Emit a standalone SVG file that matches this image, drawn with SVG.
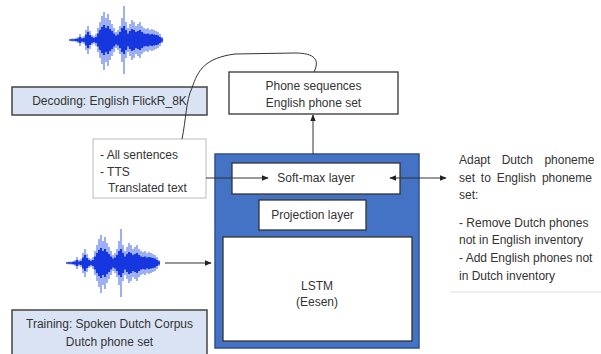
<svg xmlns="http://www.w3.org/2000/svg" width="601" height="354" viewBox="0 0 601 354">
<style>
text{font-family:"Liberation Sans",Arial,sans-serif;font-size:12px;fill:#333}
.c{text-anchor:middle}
.lbl{fill:#dae3f3;stroke:#444;stroke-width:1.5}
.wb{fill:#fff;stroke:#333;stroke-width:1.3}
.ln{fill:none;stroke:#333;stroke-width:1}
.wo{fill:none;stroke:#2a4de8;stroke-width:1.8;opacity:.5}
.wi{fill:none;stroke:#1637e0;stroke-width:2.1}
</style>
<defs>
<marker id="ah" viewBox="0 0 10 10" refX="9" refY="5" markerWidth="7" markerHeight="7" orient="auto-start-reverse">
<path d="M0,1L10,5L0,9z" fill="#222"/>
</marker>
<symbol id="wave" overflow="visible">
<path class="wo" d="M0,-1V1M2,-1.5V1.5M4,-1.5V1.5M6,-2V2M8,-3V3M10,-6V6M12,-3V3M14,-4V4M16,-10V10M18,-14V14M20,-9V9M22,-5V5M24,-4V4M26,-6V6M28,-12V12M30,-18V18M32,-24V24M34,-28V30M36,-22V22M38,-26V26M40,-20V20M42,-16V16M44,-12V12M46,-8V8M48,-10V10M50,-14V14M52,-22V22M54,-34V34M56,-18V18M58,-12V12M60,-16V16M62,-20V20M64,-18V18M66,-14V14M68,-16V16M70,-18V18M72,-14V14M74,-12V12M76,-11V11M78,-12V12M80,-10V10M82,-11V11M84,-10V10M86,-9V9M88,-8V8M90,-6V6M92,-3V3"/>
<path class="wi" d="M0,-0.5V0.5M2,-0.8V0.8M4,-0.8V0.8M6,-1V1M8,-1.5V1.5M10,-3V3M12,-1.5V1.5M14,-2V2M16,-5.5V5.5M18,-8V8M20,-5V5M22,-3V3M24,-2V2M26,-3V3M28,-6.5V6.5M30,-10V10M32,-13V13M34,-15V15M36,-12V12M38,-14V14M40,-11V11M42,-9V9M44,-6.5V6.5M46,-4.5V4.5M48,-5.5V5.5M50,-8V8M52,-12V12M54,-14V14M56,-10V10M58,-6.5V6.5M60,-9V9M62,-11V11M64,-10V10M66,-8V8M68,-9V9M70,-10V10M72,-8V8M74,-6.5V6.5M76,-6V6M78,-6.5V6.5M80,-5.5V5.5M82,-6V6M84,-5.5V5.5M86,-5V5M88,-4.5V4.5M90,-3V3M92,-1.5V1.5"/>
</symbol>
</defs>

<g id="wave-decoding"><use href="#wave" x="70" y="40"/></g>
<g id="decoding">
<rect class="lbl" x="12" y="87" width="195" height="28"/>
<text class="c" x="109.5" y="105">Decoding: English FlickR_8K</text>
</g>

<g id="wave-training"><use href="#wave" x="67" y="263"/></g>
<g id="training">
<rect class="lbl" x="12" y="310" width="195" height="50"/>
<text class="c" x="109.5" y="328">Training: Spoken Dutch Corpus</text>
<text class="c" x="109.5" y="346">Dutch phone set</text>
</g>

<g id="text-input">
<rect x="93" y="139" width="113" height="59" fill="#fff" stroke="#bbb" stroke-width="1"/>
<text x="100" y="159">- All sentences</text>
<text x="100" y="176">- TTS</text>
<text x="108" y="192">Translated text</text>
</g>

<g id="phone-seq">
<rect class="wb" x="229" y="72" width="169" height="42"/>
<text class="c" x="313.5" y="90">Phone sequences</text>
<text class="c" x="313.5" y="107">English phone set</text>
</g>

<g id="network">
<rect x="215" y="154" width="204" height="194" fill="#4472c4" stroke="#2f528f" stroke-width="1.5"/>
</g>
<g id="softmax">
<rect class="wb" x="232" y="163" width="168" height="31"/>
<text class="c" x="316" y="182">Soft-max layer</text>
</g>
<g id="projection">
<rect class="wb" x="259" y="200" width="107" height="30"/>
<text class="c" x="312.5" y="219">Projection layer</text>
</g>
<g id="lstm">
<rect class="wb" x="223" y="237" width="189" height="104"/>
<text class="c" x="317" y="290">LSTM</text>
<text class="c" x="317" y="306">(Eesen)</text>
</g>

<g id="adapt-note">
<text x="459" y="164" word-spacing="8">Adapt Dutch phoneme</text>
<text x="459" y="182" word-spacing="2.5">set to English phoneme</text>
<text x="459" y="199">set:</text>
<text x="459" y="227">- Remove Dutch phones</text>
<text x="459" y="244">not in English inventory</text>
<text x="459" y="262">- Add English phones not</text>
<text x="459" y="280">in Dutch inventory</text>
<line x1="450" y1="292" x2="601" y2="292" stroke="#ddd" stroke-width="1"/>
</g>

<g id="connectors">
<path class="ln" d="M182,139 C186,120 186,100 192,88 C198,70 205,58 235,54 L295,53 C315,53 320,60 314,72"/>
<line class="ln" x1="206" y1="178" x2="268" y2="178" marker-end="url(#ah)"/>
<line class="ln" x1="313" y1="154" x2="313" y2="115" marker-end="url(#ah)"/>
<line class="ln" x1="390" y1="178" x2="446" y2="178" marker-start="url(#ah)" marker-end="url(#ah)"/>
<line class="ln" x1="165" y1="263" x2="211" y2="263" marker-end="url(#ah)"/>
</g>
</svg>
